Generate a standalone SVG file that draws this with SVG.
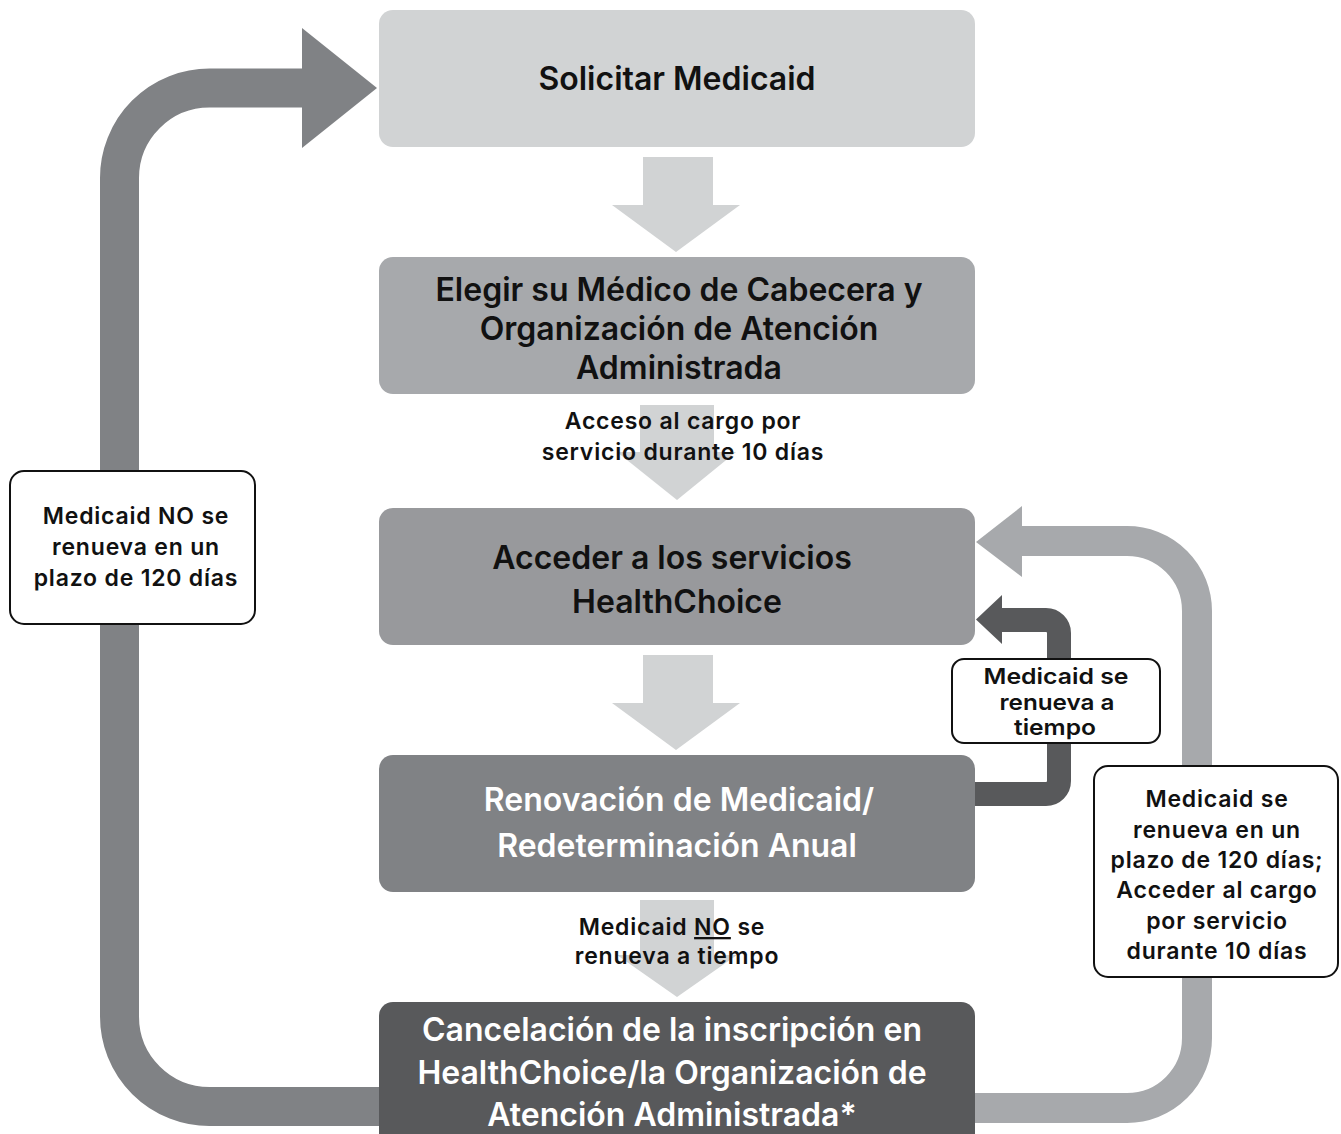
<svg xmlns="http://www.w3.org/2000/svg" width="1341" height="1134" viewBox="0 0 1341 1134">
<style>
.t{font-family:Inter,"Liberation Sans",Arial,sans-serif;font-weight:600;text-anchor:middle}
.big{font-size:32px}
.sm{font-size:23px;letter-spacing:0.8px;fill:#111}
.xs{font-size:22px;fill:#111}
.dk{fill:#111}
.wh{fill:#fff}
.lbl{fill:#fff;stroke:#111;stroke-width:2}
.down{fill:#d1d3d4}
</style>
<rect width="1341" height="1134" fill="#fff"/>
<g id="connectors">
  <path d="M400 1106.5 H210 A90 90 0 0 1 119.5 1016.5 V178 A90 90 0 0 1 209.5 88 H305" fill="none" stroke="#808285" stroke-width="39"/>
  <polygon points="302,28 377,88 302,148" fill="#808285"/>
  <path d="M960 1108 H1127 A70 70 0 0 0 1197 1038 V611 A70 70 0 0 0 1127 541 H1020" fill="none" stroke="#a7a9ac" stroke-width="30"/>
  <polygon points="1022,506 976,542 1022,577" fill="#a7a9ac"/>
  <path d="M960 794 H1046 A13 13 0 0 0 1059 781 V633 A13 13 0 0 0 1046 620 H1000" fill="none" stroke="#58595b" stroke-width="24"/>
  <polygon points="1002,595 976,619.5 1002,644" fill="#58595b"/>
  <polygon class="down" points="643,157 713,157 713,205 740,205 676,252 612,205 643,205"/>
  <polygon class="down" points="640,405 714,405 714,452 736,452 677,500 617,452 640,452"/>
  <polygon class="down" points="643,655 713,655 713,703 740,703 676,750 612,703 643,703"/>
  <polygon class="down" points="640,900 714,900 714,955 737,955 677,997 617,955 640,955"/>
</g>
<g id="n1"><rect x="379" y="10" width="596" height="137" rx="14" fill="#d1d3d4"/>
<text class="t big dk" x="677" y="90">Solicitar Medicaid</text></g>
<g id="n2"><rect x="379" y="257" width="596" height="137" rx="14" fill="#a7a9ac"/>
<text class="t big dk" x="679" y="301">Elegir su Médico de Cabecera y</text>
<text class="t big dk" x="679" y="340">Organización de Atención</text>
<text class="t big dk" x="679" y="379">Administrada</text></g>
<g id="e1"><text class="t sm" x="683" y="429">Acceso al cargo por</text>
<text class="t sm" x="683" y="460">servicio durante 10 días</text></g>
<g id="n3"><rect x="379" y="508" width="596" height="137" rx="14" fill="#98999c"/>
<text class="t big dk" x="672" y="569">Acceder a los servicios</text>
<text class="t big dk" x="677" y="613">HealthChoice</text></g>
<g id="n4"><rect x="379" y="755" width="596" height="137" rx="14" fill="#808285"/>
<text class="t big wh" x="679" y="811">Renovación de Medicaid/</text>
<text class="t big wh" x="677" y="857">Redeterminación Anual</text></g>
<g id="e2"><text class="t sm" x="672" y="935">Medicaid <tspan text-decoration="underline">NO</tspan> se</text>
<text class="t sm" x="677" y="964">renueva a tiempo</text></g>
<g id="n5"><rect x="379" y="1002" width="596" height="150" rx="14" fill="#58595b"/>
<text class="t big wh" x="672" y="1041">Cancelación de la inscripción en</text>
<text class="t big wh" x="672" y="1084">HealthChoice/la Organización de</text>
<text class="t big wh" x="672" y="1126">Atención Administrada*</text></g>
<g id="l1"><rect class="lbl" x="10" y="471" width="245" height="153" rx="14"/>
<text class="t sm" x="136" y="524">Medicaid NO se</text>
<text class="t sm" x="136" y="555">renueva en un</text>
<text class="t sm" x="136" y="586">plazo de 120 días</text></g>
<g id="l2"><rect class="lbl" x="952" y="659" width="208" height="84" rx="12"/>
<text class="t xs" x="1056" y="684" textLength="145" lengthAdjust="spacingAndGlyphs">Medicaid se</text>
<text class="t xs" x="1057" y="710" textLength="115" lengthAdjust="spacingAndGlyphs">renueva a</text>
<text class="t xs" x="1055" y="735" textLength="82" lengthAdjust="spacingAndGlyphs">tiempo</text></g>
<g id="l3"><rect class="lbl" x="1094" y="766" width="244" height="211" rx="14"/>
<text class="t sm" x="1217" y="807">Medicaid se</text>
<text class="t sm" x="1217" y="838">renueva en un</text>
<text class="t sm" x="1217" y="868">plazo de 120 días;</text>
<text class="t sm" x="1217" y="898">Acceder al cargo</text>
<text class="t sm" x="1217" y="929">por servicio</text>
<text class="t sm" x="1217" y="959">durante 10 días</text></g>
</svg>
